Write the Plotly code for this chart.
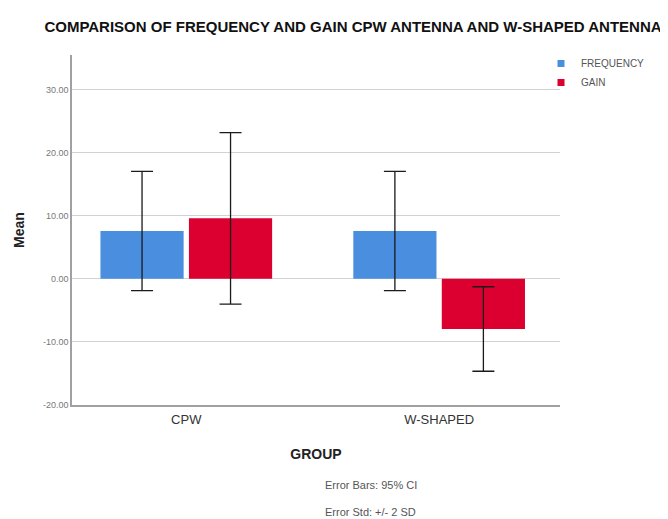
import plotly.graph_objects as go

groups = ["CPW", "W-SHAPED"]
freq_mean = [7.6, 7.6]
freq_ci = [9.45, 9.45]
gain_mean = [9.6, -7.95]
gain_ci = [13.6, 6.7]
series_names = ["FREQUENCY", "GAIN"]
y_ticks = [-20, -10, 0, 10, 20, 30]
y_tick_text = ["-20.00", "-10.00", "0.00", "10.00", "20.00", "30.00"]

BLUE = "#4a8ee0"
RED = "#dc0030"
# the page has an 8px body margin, so the figure is laid out in shifted pixels
W, H = 660, 511
L, T = 64, 47
PR, PB = 552, 397          # plot right / bottom edge
R, B = W - PR, H - PB
PW, PH = PR - L, PB - T

fig = go.Figure()
for name, mean, ci, col in [(series_names[0], freq_mean, freq_ci, BLUE),
                            (series_names[1], gain_mean, gain_ci, RED)]:
    fig.add_trace(go.Bar(
        x=groups, y=mean, name=name, showlegend=False,
        marker=dict(color=col, line=dict(width=0)),
        error_y=dict(type="data", array=ci, visible=True, color="#1a1a1a",
                     thickness=1.3, width=11),
    ))
    fig.add_trace(go.Scatter(
        x=[None], y=[None], mode="markers", name=name,
        marker=dict(symbol="square", size=7, color=col),
    ))

fig.update_layout(
    width=W, height=H,
    margin=dict(l=L, r=R, t=T, b=B, autoexpand=False),
    paper_bgcolor="white", plot_bgcolor="white",
    barmode="group", bargap=0.30, bargroupgap=0.06,
    font=dict(family="Arial, Liberation Sans, sans-serif", color="#333"),
    title=dict(text="<b>COMPARISON OF FREQUENCY AND GAIN CPW ANTENNA AND W-SHAPED ANTENNA</b>",
               xref="container", x=345 / W, xanchor="center",
               yref="container", y=1 - 19 / H, yanchor="middle",
               font=dict(family="Arial, Liberation Sans", size=15, color="#111")),
    legend=dict(x=(533 - L) / PW, xanchor="left", y=1 - (41 - T) / PH, yanchor="top",
                font=dict(size=10, color="#555"), itemwidth=30, tracegroupgap=0,
                bgcolor="rgba(0,0,0,0)"),
    xaxis=dict(range=[-0.452, 1.478], showgrid=False, showline=True, linecolor="#a0a0a0", linewidth=1.5,
               ticks="outside", ticklen=2, tickcolor="white", automargin=True,
               tickfont=dict(size=13, color="#333"),
               title=dict(text="<b>GROUP</b>", standoff=23, font=dict(size=14, color="#222"))),
    yaxis=dict(range=[-20, 35.5], tickvals=y_ticks, ticktext=y_tick_text,
               showgrid=True, gridcolor="#d2d2d2", gridwidth=1, zeroline=False,
               showline=True, linecolor="#a0a0a0", linewidth=1.5,
               tickfont=dict(size=9, color="#777"),
               title=dict(text="<b>Mean</b>", font=dict(size=14, color="#222"))),
    annotations=[
        dict(text="Error Bars: 95% CI", xref="paper", yref="paper",
             x=(315 - L) / PW, y=(PB - 477) / PH, xanchor="left", yanchor="middle",
             showarrow=False, font=dict(size=11, color="#555")),
        dict(text="Error Std: +/- 2 SD", xref="paper", yref="paper",
             x=(315 - L) / PW, y=(PB - 504) / PH, xanchor="left", yanchor="middle",
             showarrow=False, font=dict(size=11, color="#555")),
    ],
)

fig.write_html("out.html")
